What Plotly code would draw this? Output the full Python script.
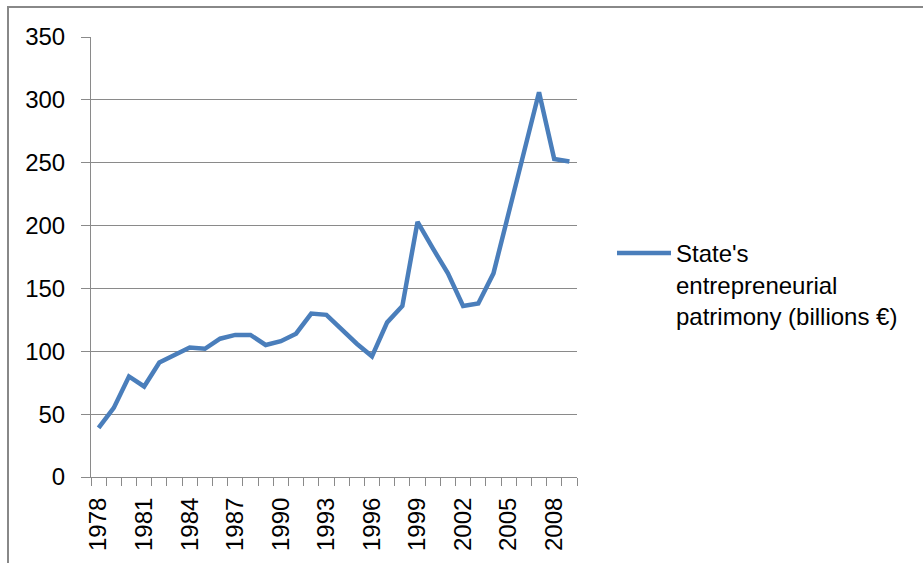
import plotly.graph_objects as go

years = list(range(1978, 2010))
patrimony = [39, 55, 80, 72, 91, 97, 103, 102, 110, 113, 113, 105, 108, 114, 130, 129,
             117, 106, 96, 123, 136, 203, 182, 162, 136, 138, 162, 210, 258, 306, 253, 251]
tick_years = list(range(1978, 2010, 3))
series_name = "State's<br>entrepreneurial<br>patrimony (billions €)"

W, H = 923, 563
L, R, T, B = 91, 577, 37, 477
pw, ph = R - L, B - T

FONT = "Liberation Sans, Arial, sans-serif"
GRID = "#8a8a8a"

fig = go.Figure()
fig.add_trace(go.Scatter(
    x=years, y=patrimony, mode="lines", name=series_name,
    line=dict(color="#4A7EBB", width=4.5), showlegend=True,
))

fig.update_layout(
    width=W, height=H,
    margin=dict(l=L, r=W - R, t=T, b=H - B, pad=0),
    paper_bgcolor="white", plot_bgcolor="white",
    font=dict(family=FONT, size=24, color="#000000"),
    showlegend=True,
    legend=dict(
        x=(612 - L) / pw, xanchor="left",
        y=(B - 231) / ph, yanchor="top",
        valign="top", itemwidth=54,
        font=dict(family=FONT, size=24, color="#000000"),
        bgcolor="rgba(0,0,0,0)", borderwidth=0,
    ),
    xaxis=dict(
        range=[1977.5, 2009.5],
        tickmode="array", tickvals=tick_years, ticktext=[str(y) for y in tick_years],
        tickangle=-90, ticks="", ticklen=8,
        showgrid=False, zeroline=False,
        showline=True, linecolor=GRID, linewidth=1,
        tickfont=dict(family=FONT, size=24, color="#000000"),
        ticklabelstandoff=10,
        minor=dict(tickmode="linear", tick0=1977.5, dtick=1, ticks="outside",
                   ticklen=8, tickcolor=GRID, tickwidth=1, showgrid=False),
    ),
    yaxis=dict(
        range=[0, 350], tickmode="linear", tick0=0, dtick=50,
        ticks="outside", ticklen=9, tickcolor=GRID, tickwidth=1,
        showgrid=True, gridcolor=GRID, gridwidth=1,
        zeroline=False, showline=True, linecolor=GRID, linewidth=1,
        tickfont=dict(family=FONT, size=24, color="#000000"),
        ticklabelstandoff=11,
    ),
    shapes=[dict(
        type="rect", xref="paper", yref="paper",
        x0=(8 - L) / pw, x1=(W + 20 - L) / pw,
        y0=(B - (H + 20)) / ph, y1=(B - 7) / ph,
        line=dict(color="#888888", width=2), fillcolor="rgba(0,0,0,0)", layer="below",
    )],
)

fig.write_html(
    "out.html",
    config={"displayModeBar": False},
    post_script="document.body.style.margin='0';document.body.style.padding='0';",
)
